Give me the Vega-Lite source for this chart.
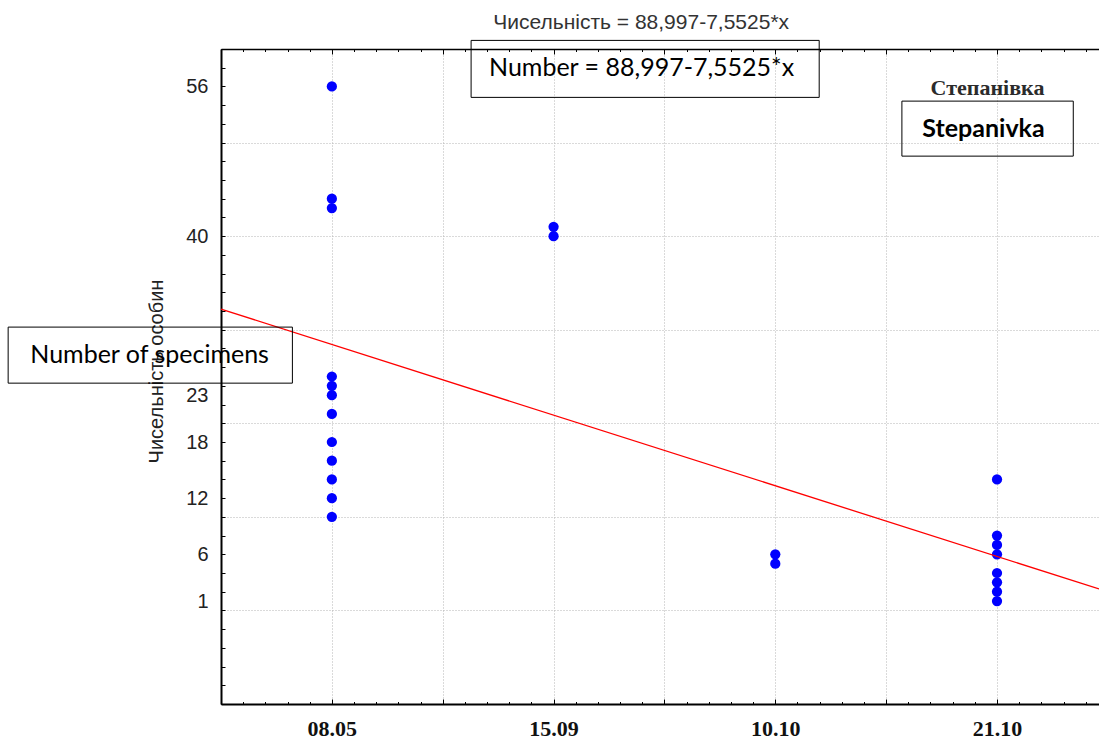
{
  "$schema": "https://vega.github.io/schema/vega-lite/v6.json",
  "width": 878,
  "height": 655,
  "autosize": {"type": "none"},
  "padding": {"left": 221, "top": 49, "right": 0, "bottom": 36},
  "background": "white",
  "config": {"view": {"stroke": null}},
  "datasets": {
    "points": [
      {"x": 8, "count": 56}, {"x": 8, "count": 44}, {"x": 8, "count": 43},
      {"x": 8, "count": 25}, {"x": 8, "count": 24}, {"x": 8, "count": 23},
      {"x": 8, "count": 21}, {"x": 8, "count": 18}, {"x": 8, "count": 16},
      {"x": 8, "count": 14}, {"x": 8, "count": 12}, {"x": 8, "count": 10},
      {"x": 9, "count": 41}, {"x": 9, "count": 40},
      {"x": 10, "count": 6}, {"x": 10, "count": 5},
      {"x": 11, "count": 14}, {"x": 11, "count": 8}, {"x": 11, "count": 7},
      {"x": 11, "count": 6}, {"x": 11, "count": 4}, {"x": 11, "count": 3},
      {"x": 11, "count": 2}, {"x": 11, "count": 1}
    ],
    "trend": [
      {"x": 7.5, "count": 32.2},
      {"x": 11.46, "count": 2.3}
    ]
  },
  "layer": [
    {
      "data": {"name": "points"},
      "mark": {"type": "circle", "color": "#0000ff", "opacity": 1, "size": 105},
      "encoding": {
        "x": {
          "field": "x", "type": "quantitative",
          "scale": {"domain": [7.5, 11.46], "nice": false, "zero": false},
          "axis": {
            "orient": "bottom",
            "values": [7.5,7.6,7.7,7.8,7.9,8,8.1,8.2,8.3,8.4,8.5,8.6,8.7,8.8,8.9,9,9.1,9.2,9.3,9.4,9.5,9.6,9.7,9.8,9.9,10,10.1,10.2,10.3,10.4,10.5,10.6,10.7,10.8,10.9,11,11.1,11.2,11.3,11.4],
            "tickSize": {"condition": {"test": "abs(datum.value*2 - round(datum.value*2)) < 0.01", "value": -5}, "value": -2.5},
            "tickColor": "black",
            "tickWidth": 1,
            "domain": true,
            "domainColor": "black",
            "domainWidth": 2,
            "grid": true,
            "gridColor": "#b4b4b4",
            "gridDash": [1, 2],
            "gridWidth": 1,
            "gridOpacity": {"condition": {"test": "abs(datum.value*2 - round(datum.value*2)) < 0.01", "value": 1}, "value": 0},
            "labelExpr": "datum.value == 8 ? '08.05' : datum.value == 9 ? '15.09' : datum.value == 10 ? '10.10' : datum.value == 11 ? '21.10' : ''",
            "labelFont": "Liberation Serif",
            "labelFontWeight": "bold",
            "labelFontSize": 22,
            "labelColor": "#111111",
            "labelPadding": 19,
            "labelOverlap": false,
            "labelFlush": false,
            "labelBound": false,
            "title": null,
            "zindex": 0
          }
        },
        "y": {
          "field": "count", "type": "quantitative",
          "scale": {"domain": [-10, 60], "nice": false, "zero": false},
          "axis": {
            "orient": "left",
            "values": [56, 40, 23, 18, 12, 6, 1],
            "ticks": false,
            "domain": false,
            "grid": false,
            "labelFont": "Liberation Sans",
            "labelFontSize": 20,
            "labelColor": "#222222",
            "labelPadding": 13,
            "labelOverlap": false,
            "labelFlush": false,
            "labelBound": false,
            "title": "Чисельність особин",
            "titleFont": "Liberation Sans",
            "titleFontSize": 20,
            "titleFontWeight": "normal",
            "titleColor": "#222222",
            "titlePadding": 19,
            "titleY": 322
          }
        }
      }
    },
    {
      "data": {"name": "trend"},
      "mark": {"type": "line", "color": "#ff0000", "strokeWidth": 1.3},
      "encoding": {
        "x": {
          "field": "x", "type": "quantitative",
          "scale": {"domain": [7.5, 11.46], "nice": false, "zero": false},
          "axis": {
            "orient": "top",
            "values": [7.5,7.6,7.7,7.8,7.9,8,8.1,8.2,8.3,8.4,8.5,8.6,8.7,8.8,8.9,9,9.1,9.2,9.3,9.4,9.5,9.6,9.7,9.8,9.9,10,10.1,10.2,10.3,10.4,10.5,10.6,10.7,10.8,10.9,11,11.1,11.2,11.3,11.4],
            "tickSize": {"condition": {"test": "abs(datum.value*2 - round(datum.value*2)) < 0.01", "value": -5}, "value": -2.5},
            "tickColor": "black",
            "tickWidth": 1,
            "domain": true,
            "domainColor": "black",
            "domainWidth": 1.5,
            "grid": false,
            "labels": false,
            "title": null
          }
        },
        "y": {
          "field": "count", "type": "quantitative",
          "scale": {"domain": [-10, 60], "nice": false, "zero": false},
          "axis": {
            "orient": "left",
            "values": [-10,-8,-6,-4,-2,0,2,4,6,8,10,12,14,16,18,20,22,24,26,28,30,32,34,36,38,40,42,44,46,48,50,52,54,56,58,60],
            "tickSize": -4,
            "tickColor": "black",
            "tickWidth": 1,
            "domain": true,
            "domainColor": "black",
            "domainWidth": 2,
            "grid": true,
            "gridColor": "#b4b4b4",
            "gridDash": [1, 2],
            "gridWidth": 1,
            "gridOpacity": {"condition": {"test": "abs(datum.value % 10) < 0.01", "value": 1}, "value": 0},
            "labels": false,
            "title": null,
            "zindex": 0
          }
        }
      }
    },
    {
      "data": {"values": [{}]},
      "mark": {"type": "rect", "filled": false, "color": "black", "stroke": "black", "strokeWidth": 1},
      "encoding": {
        "x": {"datum": 8.628, "type": "quantitative", "scale": {"domain": [7.5, 11.46], "nice": false, "zero": false}, "axis": null},
        "x2": {"datum": 10.198},
        "y": {"datum": 60.92, "type": "quantitative", "scale": {"domain": [-10, 60], "nice": false, "zero": false}, "axis": null},
        "y2": {"datum": 54.83}
      }
    },
    {
      "data": {"values": [{}]},
      "mark": {"type": "rect", "filled": false, "color": "black", "stroke": "black", "strokeWidth": 1},
      "encoding": {
        "x": {"datum": 10.571, "type": "quantitative", "scale": {"domain": [7.5, 11.46], "nice": false, "zero": false}, "axis": null},
        "x2": {"datum": 11.344},
        "y": {"datum": 54.43, "type": "quantitative", "scale": {"domain": [-10, 60], "nice": false, "zero": false}, "axis": null},
        "y2": {"datum": 48.55}
      }
    },
    {
      "data": {"values": [{}]},
      "mark": {"type": "rect", "filled": false, "color": "black", "stroke": "black", "strokeWidth": 1},
      "encoding": {
        "x": {"datum": 6.54, "type": "quantitative", "scale": {"domain": [7.5, 11.46], "nice": false, "zero": false}, "axis": null},
        "x2": {"datum": 7.822},
        "y": {"datum": 30.28, "type": "quantitative", "scale": {"domain": [-10, 60], "nice": false, "zero": false}, "axis": null},
        "y2": {"datum": 24.29}
      }
    },
    {
      "data": {"values": [{}]},
      "mark": {"type": "text", "text": "Чисельність = 88,997-7,5525*x", "font": "Liberation Sans", "fontSize": 21, "color": "#333333", "align": "center", "baseline": "middle"},
      "encoding": {
        "x": {"datum": 9.395, "type": "quantitative", "scale": {"domain": [7.5, 11.46], "nice": false, "zero": false}, "axis": null},
        "y": {"datum": 62.79, "type": "quantitative", "scale": {"domain": [-10, 60], "nice": false, "zero": false}, "axis": null}
      }
    },
    {
      "data": {"values": [{}]},
      "mark": {"type": "text", "text": "Number = 88,997-7,5525*x", "font": "Lato", "fontSize": 25, "color": "black", "align": "center", "baseline": "middle"},
      "encoding": {
        "x": {"datum": 9.397, "type": "quantitative", "scale": {"domain": [7.5, 11.46], "nice": false, "zero": false}, "axis": null},
        "y": {"datum": 57.92, "type": "quantitative", "scale": {"domain": [-10, 60], "nice": false, "zero": false}, "axis": null}
      }
    },
    {
      "data": {"values": [{}]},
      "mark": {"type": "text", "text": "Степанівка", "font": "Liberation Serif", "fontWeight": "bold", "fontSize": 22, "color": "#2b2b2b", "align": "center", "baseline": "middle"},
      "encoding": {
        "x": {"datum": 10.957, "type": "quantitative", "scale": {"domain": [7.5, 11.46], "nice": false, "zero": false}, "axis": null},
        "y": {"datum": 55.86, "type": "quantitative", "scale": {"domain": [-10, 60], "nice": false, "zero": false}, "axis": null}
      }
    },
    {
      "data": {"values": [{}]},
      "mark": {"type": "text", "text": "Stepanivka", "font": "Lato", "fontWeight": "bold", "fontSize": 25, "color": "black", "align": "center", "baseline": "middle"},
      "encoding": {
        "x": {"datum": 10.939, "type": "quantitative", "scale": {"domain": [7.5, 11.46], "nice": false, "zero": false}, "axis": null},
        "y": {"datum": 51.48, "type": "quantitative", "scale": {"domain": [-10, 60], "nice": false, "zero": false}, "axis": null}
      }
    },
    {
      "data": {"values": [{}]},
      "mark": {"type": "text", "text": "Number of specimens", "font": "Lato", "fontSize": 25, "color": "black", "align": "center", "baseline": "middle"},
      "encoding": {
        "x": {"datum": 7.178, "type": "quantitative", "scale": {"domain": [7.5, 11.46], "nice": false, "zero": false}, "axis": null},
        "y": {"datum": 27.25, "type": "quantitative", "scale": {"domain": [-10, 60], "nice": false, "zero": false}, "axis": null}
      }
    }
  ],
  "resolve": {"axis": {"x": "independent", "y": "independent"}}
}
